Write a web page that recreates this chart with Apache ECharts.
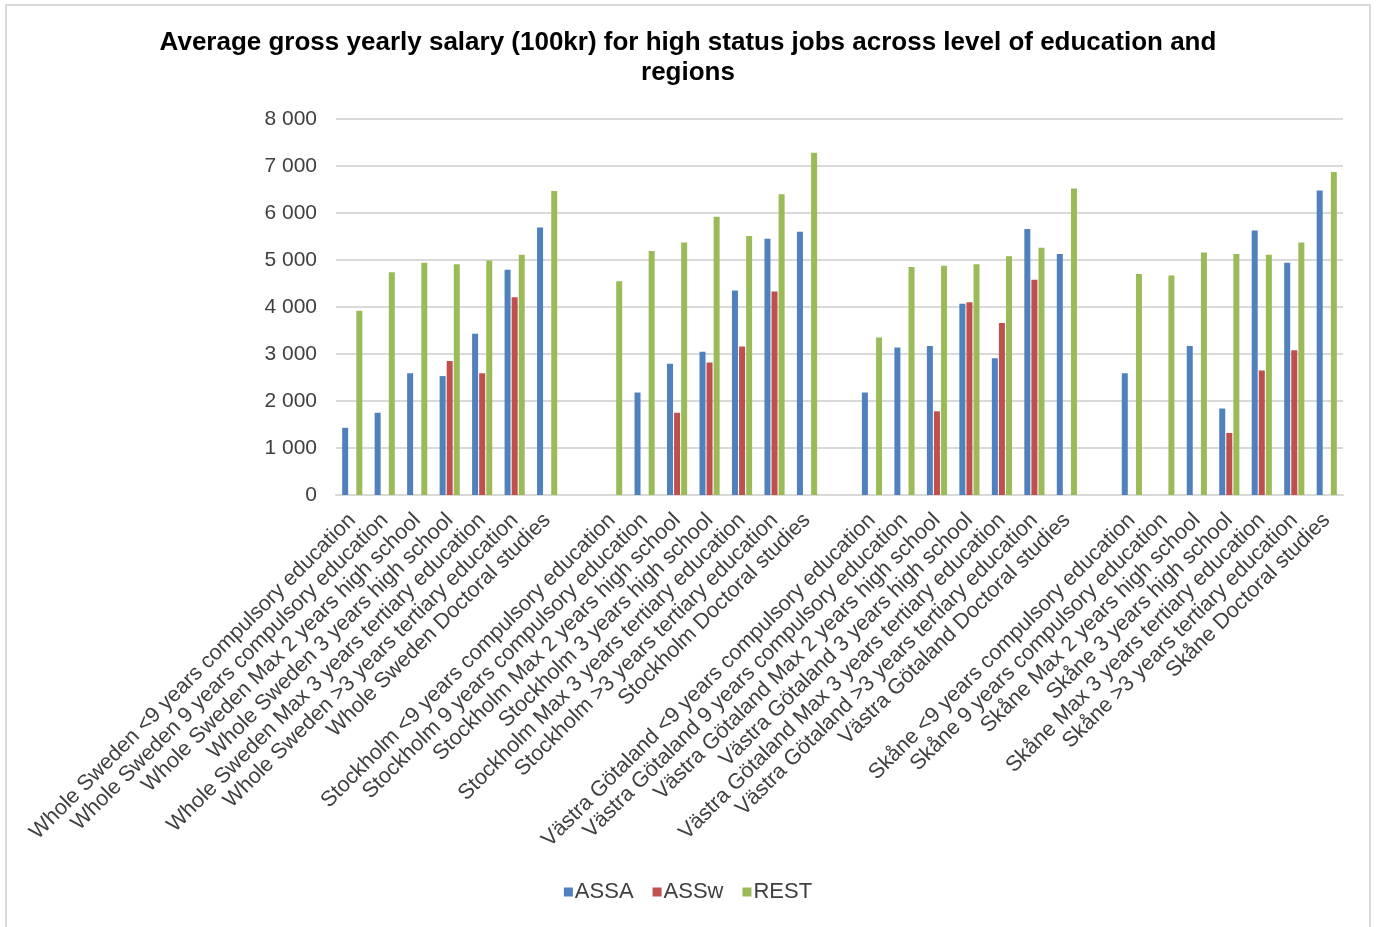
<!DOCTYPE html>
<html>
<head>
<meta charset="utf-8">
<script src="https://cdn.jsdelivr.net/npm/echarts@6/dist/echarts.min.js"></script>
<style>
  html, body { margin: 0; padding: 0; background: #ffffff; }
  #chart { width: 1376px; height: 927px; }
</style>
</head>
<body>
<div id="chart"></div>
<script>
// Region / education-level categories; blank entries separate the regions
const categories = [
  'Whole Sweden <9 years compulsory education',
  'Whole Sweden 9 years compulsory education',
  'Whole Sweden Max 2 years high school',
  'Whole Sweden 3 years high school',
  'Whole Sweden Max 3 years tertiary education',
  'Whole Sweden >3 years tertiary education',
  'Whole Sweden Doctoral studies',
  '',
  'Stockholm <9 years compulsory education',
  'Stockholm 9 years compulsory education',
  'Stockholm Max 2 years high school',
  'Stockholm 3 years high school',
  'Stockholm Max 3 years tertiary education',
  'Stockholm >3 years tertiary education',
  'Stockholm Doctoral studies',
  ' ',
  'Västra Götaland <9 years compulsory education',
  'Västra Götaland 9 years compulsory education',
  'Västra Götaland Max 2 years high school',
  'Västra Götaland 3 years high school',
  'Västra Götaland Max 3 years tertiary education',
  'Västra Götaland >3 years tertiary education',
  'Västra Götaland Doctoral studies',
  '  ',
  'Skåne <9 years compulsory education',
  'Skåne 9 years compulsory education',
  'Skåne Max 2 years high school',
  'Skåne 3 years high school',
  'Skåne Max 3 years tertiary education',
  'Skåne >3 years tertiary education',
  'Skåne Doctoral studies'
];

const assa = [
  1430, 1750, 2590, 2530, 3430, 4790, 5690, null,
  null, 2180, 2790, 3050, 4350, 5450, 5600, null,
  2180, 3140, 3170, 4070, 2910, 5660, 5130, null,
  2590, null, 3170, 1840, 5630, 4940, 6480
];

const assw = [
  null, null, null, 2850, 2590, 4210, null, null,
  null, null, 1750, 2820, 3160, 4330, null, null,
  null, null, 1780, 4100, 3660, 4580, null, null,
  null, null, null, 1320, 2650, 3080, null
];

const rest = [
  3920, 4740, 4940, 4910, 4990, 5110, 6470, null,
  4550, 5190, 5370, 5920, 5510, 6400, 7280, null,
  3350, 4850, 4880, 4910, 5080, 5260, 6520, null,
  4700, 4670, 5160, 5130, 5110, 5370, 6870
];

const yTicks = { min: 0, max: 8000, interval: 1000 };

const FONT = '"Liberation Sans", Arial, sans-serif';
const chart = echarts.init(document.getElementById('chart'), null, { renderer: 'canvas' });

function barSeries(name, data, color) {
  return {
    name: name,
    type: 'bar',
    data: data,
    barWidth: 6,
    barGap: '18%',
    itemStyle: { color: color },
    emphasis: { disabled: true }
  };
}

chart.setOption({
  animation: false,
  backgroundColor: '#ffffff',
  graphic: [{
    type: 'rect',
    shape: { x: 6, y: 5, width: 1364, height: 940 },
    style: { fill: 'none', stroke: '#d9d9d9', lineWidth: 2 },
    silent: true
  }],
  title: {
    text: 'Average gross yearly salary (100kr) for high status jobs across level of education and\nregions',
    left: 'center',
    top: 23,
    textStyle: {
      fontFamily: FONT,
      fontSize: 26,
      fontWeight: 'bold',
      color: '#000000',
      lineHeight: 30,
      align: 'center'
    }
  },
  legend: {
    bottom: 19,
    left: 'center',
    icon: 'rect',
    itemWidth: 9,
    itemHeight: 9,
    itemGap: 19,
    textStyle: { fontFamily: FONT, fontSize: 22, color: '#404040', padding: [0, 0, 0, -3] },
    data: ['ASSA', 'ASSw', 'REST']
  },
  grid: {
    left: 336,
    right: 33,
    top: 119,
    bottom: 432,
    containLabel: false
  },
  xAxis: {
    type: 'category',
    data: categories,
    axisTick: { show: false },
    axisLine: { show: true, lineStyle: { color: '#d9d9d9', width: 2 } },
    axisLabel: {
      interval: 0,
      rotate: 45,
      margin: 22,
      fontFamily: FONT,
      fontSize: 21.6,
      color: '#404040'
    }
  },
  yAxis: {
    type: 'value',
    min: yTicks.min,
    max: yTicks.max,
    interval: yTicks.interval,
    axisLine: { show: false },
    axisTick: { show: false },
    splitLine: { lineStyle: { color: '#d9d9d9', width: 2 } },
    axisLabel: {
      margin: 19,
      fontFamily: FONT,
      fontSize: 21,
      color: '#404040',
      formatter: function (v) {
        return String(v).replace(/\B(?=(\d{3})+(?!\d))/g, ' ');
      }
    }
  },
  series: [
    barSeries('ASSA', assa, '#4f81bd'),
    barSeries('ASSw', assw, '#c0504d'),
    barSeries('REST', rest, '#9bbb59')
  ]
});
</script>
</body>
</html>
